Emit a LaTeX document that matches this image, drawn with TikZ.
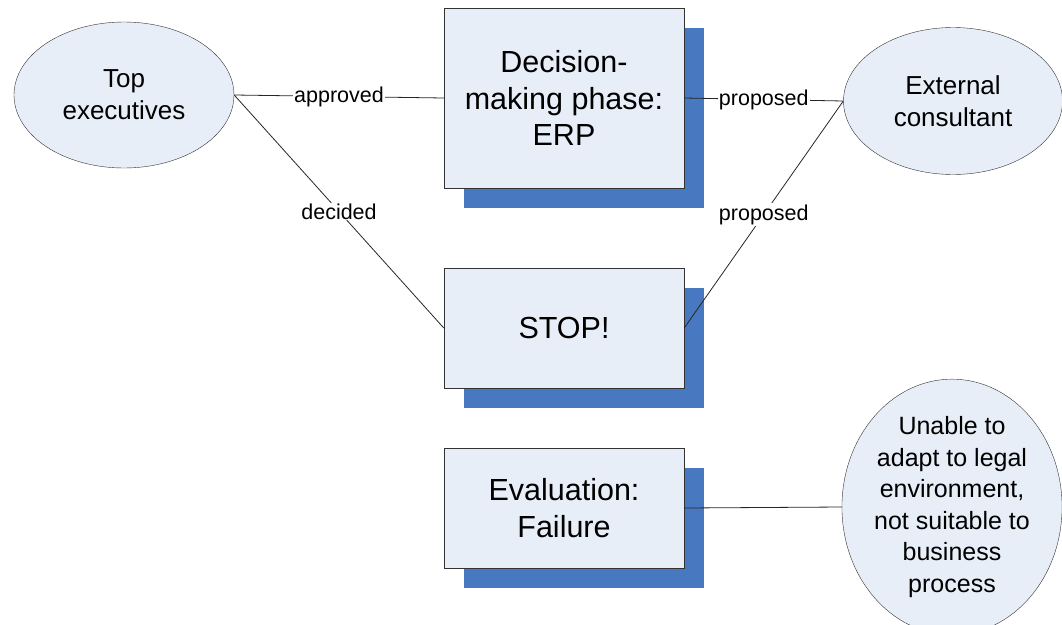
\documentclass[tikz,border=0pt]{standalone}
\usepackage{fontspec}
\setmainfont{Liberation Sans}
\usetikzlibrary{shapes.geometric}

\definecolor{boxfill}{RGB}{232,238,248}
\definecolor{shadowblue}{RGB}{72,120,192}

\begin{document}
\begin{tikzpicture}[x=1pt,y=-1pt,
  phase/.style={draw=black!80, fill=boxfill, minimum width=240pt, inner sep=0pt, align=center, font=\fontsize{30.5}{36.5}\selectfont},
  backing/.style={fill=shadowblue, minimum width=240pt, inner sep=0pt},
  actor/.style={ellipse, draw=black!80, fill=boxfill, minimum width=220pt, minimum height=146pt, inner sep=0pt, align=center, font=\fontsize{26}{32}\selectfont},
  edgelabel/.style={fill=white, inner sep=1pt, font=\fontsize{21.5}{23}\selectfont},
  link/.style={draw=black!85, line width=0.8pt}]
\useasboundingbox (0,0) rectangle (1062,624);

\node[backing, minimum height=180pt] (decshadow) at (584,118) {};
\node[phase, minimum height=180pt] (dec) at (564,98) {Decision-\\making phase:\\ERP};
\node[backing, minimum height=120pt] (stopshadow) at (584,348) {};
\node[phase, minimum height=120pt] (stop) at (564,328) {STOP!};
\node[backing, minimum height=120pt] (evalshadow) at (584,528) {};
\node[phase, minimum height=120pt] (eval) at (564,508) {Evaluation:\\Failure};

\node[actor] (top) at (124,95) {Top\\executives};
\node[actor, minimum width=219pt, minimum height=147pt] (ext) at (953,101) {External\\consultant};
\node[actor, minimum width=219pt, minimum height=230pt, font=\fontsize{25}{31.5}\selectfont] (cause) at (952,507) {Unable to\\adapt to legal\\environment,\\not suitable to\\business\\process};

\draw[link] (top.east) -- node[edgelabel] {approved} (dec.west);
\draw[link] (top.east) -- node[edgelabel] {decided} (stop.west);
\draw[link] (dec.east) -- node[edgelabel] {proposed} (ext.west);
\draw[link] (stop.east) -- node[edgelabel] {proposed} (ext.west);
\draw[link] (eval.east) -- (cause.west);
\end{tikzpicture}
\end{document}
